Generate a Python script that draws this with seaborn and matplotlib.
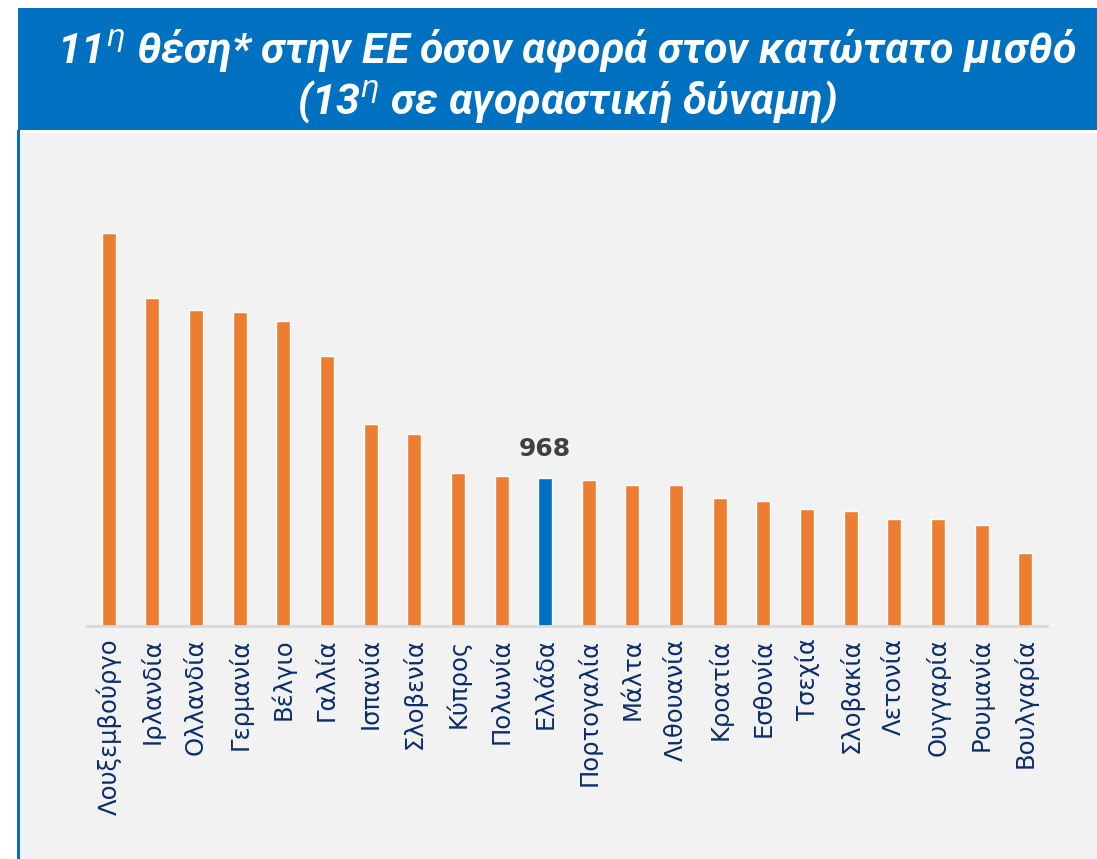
import numpy as np
import pandas as pd
import matplotlib
matplotlib.use("Agg")
import matplotlib.pyplot as plt
import seaborn as sns
from matplotlib.patches import Rectangle

# ========== Data ==========
countries = ["Λουξεμβούργο", "Ιρλανδία", "Ολλανδία", "Γερμανία", "Βέλγιο", "Γαλλία",
             "Ισπανία", "Σλοβενία", "Κύπρος", "Πολωνία", "Ελλάδα", "Πορτογαλία",
             "Μάλτα", "Λιθουανία", "Κροατία", "Εσθονία", "Τσεχία", "Σλοβακία",
             "Λετονία", "Ουγγαρία", "Ρουμανία", "Βουλγαρία"]
min_wage = [2571, 2146, 2070, 2054, 1994, 1767, 1323, 1254, 1000, 978, 968, 956,
            925, 924, 840, 820, 764, 750, 700, 697, 663, 477]
highlight = "Ελλάδα"

title_line1 = "11$^{\\eta}$ θέση* στην ΕΕ όσον αφορά στον κατώτατο μισθό"
title_line2 = "(13$^{\\eta}$ σε αγοραστική δύναμη)"

df = pd.DataFrame({"country": countries, "wage": min_wage})
df["group"] = np.where(df["country"] == highlight, "gr", "other")

# ========== Figure ==========
sns.set_style("white")
W, H = 1097, 859
fig = plt.figure(figsize=(W / 100, H / 100), dpi=100)
fig.patch.set_facecolor("white")

# blue title banner and grey panel (behind the axes)
fig.patches.append(Rectangle((18 / W, 1 - 130 / H), 1, 122 / H, transform=fig.transFigure,
                             facecolor="#0070C0", edgecolor="none", zorder=-2))
fig.patches.append(Rectangle((20 / W, 0), 1, 1 - 133 / H, transform=fig.transFigure,
                             facecolor="#F2F2F2", edgecolor="none", zorder=-2))
fig.patches.append(Rectangle((17 / W, 0), 3 / W, 1 - 130 / H, transform=fig.transFigure,
                             facecolor="#0070C0", edgecolor="none", zorder=-2))

title_font = dict(color="white", fontsize=31, fontweight="bold", fontstyle="italic",
                  ha="center", va="center", family=["Roboto", "DejaVu Sans"])
fig.text(567 / W, 1 - 50 / H, title_line1, **title_font)
fig.text(567 / W, 1 - 102 / H, title_line2, **title_font)

# axes: baseline at y=626px, x from 87 to 1047
ymax = 3000
px_per_unit = 148 / 968
ax_top = 626 - ymax * px_per_unit
ax = fig.add_axes([87 / W, 1 - 626 / H, 960 / W, (626 - ax_top) / H])
ax.set_facecolor("none")

sns.barplot(data=df, x="country", y="wage", hue="group",
            palette={"other": "#ED7D31", "gr": "#0070C0"},
            width=0.32, dodge=False, legend=False, ax=ax, saturation=1)

ax.set_xlim(-0.5, len(countries) - 0.5)
ax.set_ylim(0, ymax)
ax.set_xlabel("")
ax.set_ylabel("")
ax.set_yticks([])
for s in ["top", "right", "left"]:
    ax.spines[s].set_visible(False)
ax.spines["bottom"].set_color("#D9D9D9")
ax.spines["bottom"].set_linewidth(2)

ax.tick_params(axis="x", length=0, pad=9)
ax.set_xticks(range(len(countries)))
ax.set_xticklabels(countries, rotation=90, fontsize=17.5, color="#0B2D6B", va="top")

gi = countries.index(highlight)
ax.text(gi, min_wage[gi] + 110, str(min_wage[gi]), ha="center", va="bottom",
        fontsize=18, fontweight="bold", color="#404040")

fig.savefig("out.png", dpi=100, facecolor=fig.get_facecolor())
